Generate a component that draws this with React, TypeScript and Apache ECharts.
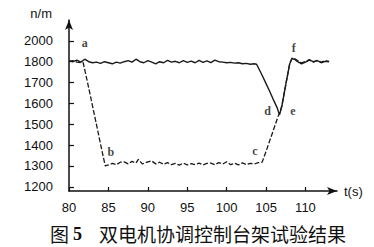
import React, { useEffect, useRef } from "react";
import * as echarts from "echarts";

// Solid line (motor speed 1)
const solidT = [80, 80.5, 81, 81.5, 82, 82.5, 83, 83.5, 84, 84.5, 85, 85.5, 86, 86.5, 87, 87.5, 88, 88.5, 89, 89.5, 90, 90.5, 91, 91.5, 92, 92.5, 93, 93.5, 94, 94.5, 95, 95.5, 96, 96.5, 97, 97.5, 98, 98.5, 99, 99.5, 100, 100.5, 101, 101.5, 102, 102.5, 103, 103.5, 103.8, 104.5, 105, 105.5, 106, 106.4, 106.7, 107, 107.5, 108, 108.3, 108.6, 109, 109.5, 110, 110.5, 111, 111.5, 112, 112.5, 113];
const solidV = [1805, 1800, 1808, 1798, 1812, 1800, 1795, 1798, 1792, 1800, 1795, 1790, 1798, 1793, 1800, 1805, 1798, 1812, 1800, 1795, 1805, 1798, 1790, 1800, 1795, 1806, 1798, 1802, 1795, 1805, 1797, 1803, 1795, 1806, 1797, 1804, 1796, 1808, 1800, 1798, 1795, 1797, 1793, 1795, 1790, 1792, 1788, 1790, 1788, 1735, 1695, 1655, 1612, 1580, 1545, 1585, 1690, 1790, 1815, 1812, 1800, 1790, 1798, 1808, 1800, 1805, 1795, 1802, 1800];

// Dashed line (motor speed 2)
const dashedT = [80, 80.5, 81, 81.5, 81.8, 82.5, 83, 83.5, 84, 84.6, 85, 85.5, 86, 86.5, 87, 87.5, 88, 88.5, 88.8, 89.3, 90, 90.5, 91, 91.5, 92, 92.5, 93, 93.5, 94, 94.5, 95, 95.5, 96, 96.5, 97, 97.5, 98, 98.5, 99, 99.5, 100, 100.5, 101, 101.5, 102, 102.5, 103, 103.5, 104, 104.5, 105, 105.5, 106, 106.5, 106.8, 107, 107.5, 108, 108.3, 108.6, 109, 109.5, 110, 110.5, 111, 111.5, 112, 112.5, 113];
const dashedV = [1800, 1805, 1798, 1795, 1795, 1675, 1585, 1496, 1405, 1300, 1305, 1312, 1306, 1318, 1320, 1310, 1322, 1314, 1332, 1310, 1320, 1324, 1310, 1318, 1308, 1316, 1306, 1312, 1304, 1314, 1305, 1311, 1306, 1314, 1305, 1312, 1314, 1306, 1316, 1309, 1320, 1306, 1313, 1305, 1315, 1307, 1313, 1309, 1316, 1318, 1370, 1425, 1480, 1535, 1560, 1590, 1690, 1790, 1818, 1815, 1805, 1795, 1802, 1810, 1798, 1806, 1798, 1805, 1802];

// Point annotations
const annoNames = ["a", "b", "c", "d", "e", "f"];
const annoT = [82, 85.3, 103.6, 105.2, 108.4, 108.5];
const annoV = [1890, 1366, 1370, 1566, 1566, 1867];

// Axis ticks
const xTicks = [80, 85, 90, 95, 100, 105, 110];
const yTicks = [1200, 1300, 1400, 1500, 1600, 1700, 1800, 1900];
const yTickLabels = ["1200", "1300", "1400", "1500", "1600", "1700", "1800", "2000"];

const captionPrefix = "图";
const captionNumber = "5";
const caption = "双电机协调控制台架试验结果";

export default function App() {
  const ref = useRef<HTMLDivElement>(null);
  useEffect(() => {
    if (!ref.current) return;
    const chart = echarts.init(ref.current, null, { renderer: "svg" });
    const solid = solidT.map((t, i) => [t, solidV[i]]);
    const dashed = dashedT.map((t, i) => [t, dashedV[i]]);
    const anno = annoNames.map((n, i) => [annoT[i], annoV[i], n]);
    const tickFont = { fontFamily: "Liberation Sans", fontSize: 13, color: "#111" };
    chart.setOption({
      animation: false,
      backgroundColor: "#fff",
      grid: { left: 69, right: 37, top: 20, bottom: 56 },
      xAxis: {
        type: "value",
        min: 80,
        max: 114,
        splitLine: { show: false },
        name: "t(s)",
        nameLocation: "end",
        nameGap: 7,
        nameTextStyle: { ...tickFont, verticalAlign: "middle" },
        axisLine: { lineStyle: { color: "#111", width: 1.5 }, symbol: ["none", "arrow"], symbolSize: [6, 10] },
        axisTick: { inside: true, length: 4, customValues: xTicks, lineStyle: { color: "#111", width: 1.2 } },
        axisLabel: { ...tickFont, margin: 10, customValues: xTicks },
      },
      yAxis: {
        type: "value",
        min: 1180,
        max: 2000,
        splitLine: { show: false },
        name: "n/m",
        nameLocation: "end",
        nameGap: 0,
        nameTextStyle: { ...tickFont, align: "right", verticalAlign: "bottom", padding: [0, 17, 0, 0] },
        axisLine: { lineStyle: { color: "#111", width: 1.5 }, symbol: ["none", "arrow"], symbolSize: [6, 10] },
        axisTick: { inside: true, length: 5, customValues: yTicks, lineStyle: { color: "#111", width: 1.2 } },
        axisLabel: {
          ...tickFont,
          margin: 16,
          customValues: yTicks,
          formatter: (v: number) => {
            const i = yTicks.indexOf(v);
            return i >= 0 ? yTickLabels[i] : "";
          },
        },
      },
      series: [
        {
          type: "line",
          data: solid,
          symbol: "none",
          lineStyle: { color: "#1a1a1a", width: 1.4 },
        },
        {
          type: "line",
          data: dashed,
          symbol: "none",
          lineStyle: { color: "#1a1a1a", width: 1.3, type: [5, 2] },
        },
        {
          type: "scatter",
          data: anno,
          symbolSize: 1,
          itemStyle: { color: "transparent" },
          label: {
            show: true,
            position: "inside",
            formatter: (p: any) => p.data[2],
            fontFamily: "Liberation Serif",
            fontWeight: "bold",
            fontSize: 12,
            color: "#111",
          },
        },
      ],
      graphic: [
        {
          type: "text",
          x: 50,
          y: 233,
          style: { text: captionPrefix, fontFamily: "Noto Sans CJK SC", fontSize: 19, fill: "#111", verticalAlign: "middle" },
        },
        {
          type: "text",
          x: 73,
          y: 234,
          style: { text: captionNumber, fontFamily: "Liberation Serif", fontWeight: "bold", fontSize: 18, fill: "#111", verticalAlign: "middle" },
        },
        {
          type: "text",
          x: 99,
          y: 233,
          style: { text: caption, fontFamily: "Noto Sans CJK SC", fontSize: 19, fill: "#111", verticalAlign: "middle" },
        },
      ],
    });
    return () => chart.dispose();
  }, []);
  return (
    <div
      ref={ref}
      style={{ position: "absolute", left: 0, top: 0, width: 374, height: 247, background: "#fff" }}
    />
  );
}
